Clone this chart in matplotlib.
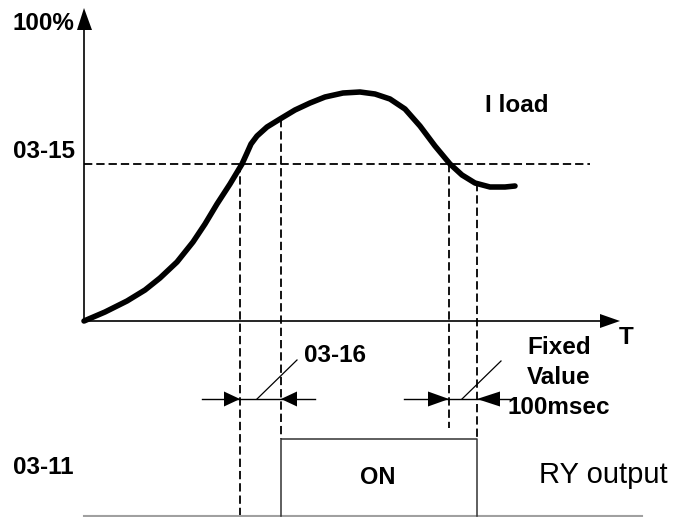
import matplotlib.pyplot as plt

plt.rcParams['font.family'] = ['Liberation Sans', 'DejaVu Sans']

# drawing units: pixel-like canvas, y grows downward
origin_x, origin_y = 84, 321
y_axis_top = 8
x_axis_end = 620

# I load curve
curve_x = [84, 105, 127, 145, 160, 177, 193, 205, 217, 230, 242, 247, 251, 257, 267,
           280, 295, 310, 325, 343, 360, 375, 390, 405, 420, 435, 450, 462, 475, 490,
           505, 515]
curve_y = [321, 312, 301, 290, 278, 262, 242, 224, 204, 184, 164, 153, 144, 136, 127,
           119, 110, 103, 97, 93, 92, 94, 99, 109, 126, 146, 164, 175, 183, 187,
           187, 186]

threshold_y = 164          # 03-15 level
threshold_end = 590

# event times and where their dashed guides start / stop
event_x = [240, 281, 449, 477]
event_top = [164, 119, 164, 183]
event_bottom = [517, 439, 428, 439]

# RY output pulse
pulse_on, pulse_off = 281, 477
pulse_high, pulse_low = 439, 516
baseline_start, baseline_end = 84, 642

# delay markers
marker_y = 399
delays = [(240, 281, 202, 315), (449, 477, 404, 510)]   # (t0, t1, tail left, tail right)
leaders = [((257, 399), (297, 360)), ((462, 399), (501, 361))]

fig = plt.figure(figsize=(6.73, 5.17), dpi=100)
ax = fig.add_axes([0, 0, 1, 1])
ax.set_xlim(0, 673)
ax.set_ylim(517, 0)
ax.axis('off')

dash = (0, (4.6, 2.2))

# axes of the diagram
ax.plot([origin_x, origin_x], [origin_y, 30], color='black', lw=1.2)
ax.fill([77, 92, origin_x], [30, 30, y_axis_top], color='black', lw=0)
ax.plot([origin_x, 600], [origin_y, origin_y], color='black', lw=1.2)
ax.fill([600, 600, x_axis_end], [314, 328, origin_y], color='black', lw=0)

# threshold + guides
ax.plot([origin_x, threshold_end], [threshold_y, threshold_y], color='black', lw=1.3, linestyle=dash)
for x, t, b in zip(event_x, event_top, event_bottom):
    ax.plot([x, x], [t, b], color='black', lw=1.3, linestyle=dash)

# load curve
ax.plot(curve_x, curve_y, color='black', lw=4.0, solid_capstyle='round', solid_joinstyle='round')

# pulse
ax.plot([baseline_start, baseline_end], [pulse_low, pulse_low], color='#a0a0a0', lw=1.5)
ax.plot([pulse_on, pulse_on, pulse_off, pulse_off], [pulse_low, pulse_high, pulse_high, pulse_low],
        color='#333333', lw=1.1)

# delay arrows
for (t0, t1, left, right), head in zip(delays, [(16, 16), (21, 23)]):
    ax.plot([left, right], [marker_y, marker_y], color='black', lw=1.0)
    ax.fill([t0 - head[0], t0 - head[0], t0], [marker_y - 7.5, marker_y + 7.5, marker_y],
            color='black', lw=0)
    ax.fill([t1 + head[1], t1 + head[1], t1], [marker_y - 7.5, marker_y + 7.5, marker_y],
            color='black', lw=0)
for p, q in leaders:
    ax.plot([p[0], q[0]], [p[1], q[1]], color='black', lw=0.9)

bold = dict(fontsize=17.5, fontweight='bold', va='center')
ax.text(13, 23, '100%', ha='left', **bold)
ax.text(13, 152, '03-15', ha='left', **bold)
ax.text(485, 105, 'I load', ha='left', **bold)
ax.text(619, 338, 'T', ha='left', **bold)
ax.text(304, 356, '03-16', ha='left', **bold)
ax.text(559, 347, 'Fixed', ha='center', **bold)
ax.text(559, 378, 'Value', ha='center', **bold)
ax.text(559, 407, '100msec', ha='center', **bold)
ax.text(13, 467, '03-11', ha='left', **bold)
ax.text(378, 478, 'ON', ha='center', fontsize=17, fontweight='bold', va='center')
ax.text(539, 475, 'RY output', ha='left', fontsize=21, va='center')

fig.savefig('out.png', dpi=100)
